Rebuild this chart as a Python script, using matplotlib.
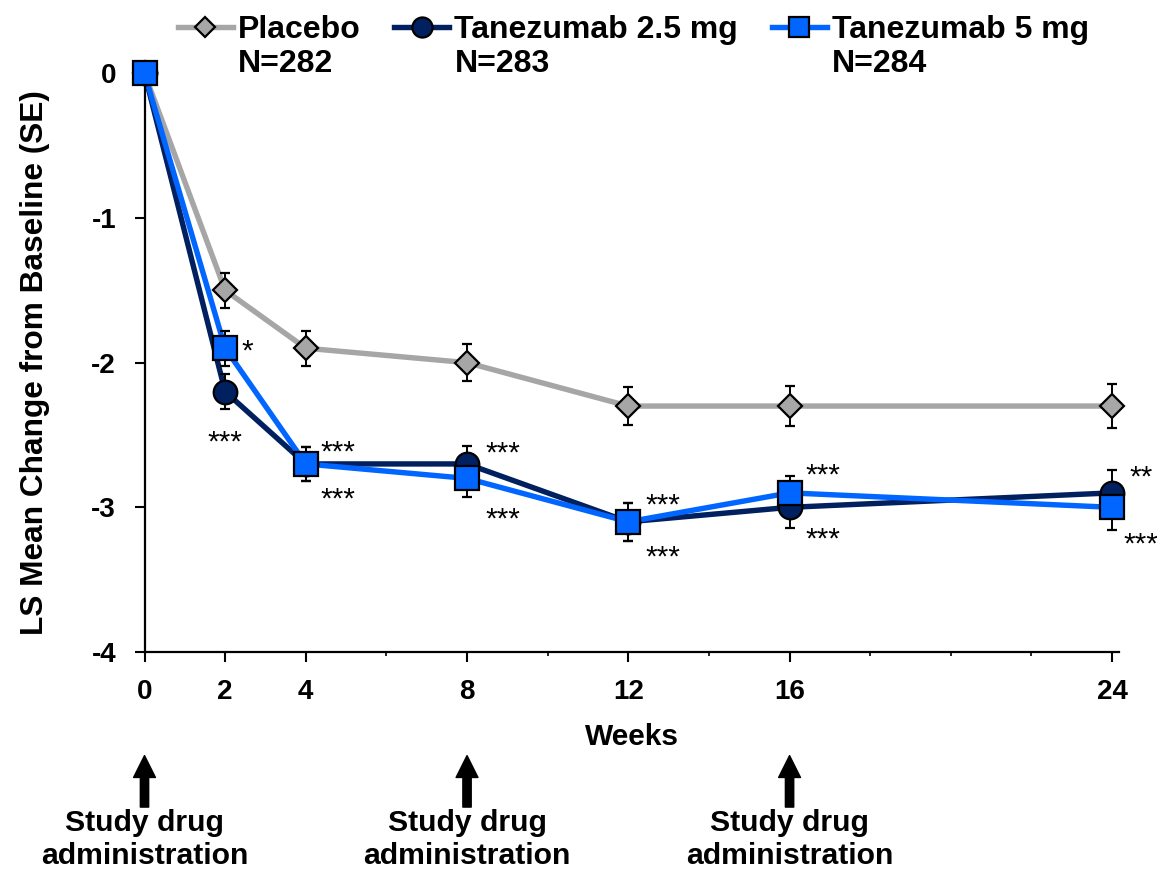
import numpy as np
import matplotlib
matplotlib.use("Agg")
import matplotlib.pyplot as plt
from matplotlib.lines import Line2D

plt.rcParams['font.family'] = ['Liberation Sans', 'DejaVu Sans']
plt.rcParams['font.weight'] = 'bold'
plt.rcParams['axes.unicode_minus'] = False

weeks = [0, 2, 4, 8, 12, 16, 24]
placebo = [0, -1.5, -1.9, -2.0, -2.3, -2.3, -2.3]
placebo_se = [0, 0.12, 0.12, 0.13, 0.13, 0.14, 0.15]
tan25 = [0, -2.2, -2.7, -2.7, -3.1, -3.0, -2.9]
tan25_se = [0, 0.12, 0.12, 0.125, 0.13, 0.14, 0.16]
tan5 = [0, -1.9, -2.7, -2.8, -3.1, -2.9, -3.0]
tan5_se = [0, 0.12, 0.12, 0.13, 0.13, 0.12, 0.16]

names = ["Placebo", "Tanezumab 2.5 mg", "Tanezumab 5 mg"]
counts = ["N=282", "N=283", "N=284"]
colors = ["#A6A6A6", "#002060", "#0066FF"]
markers = ["D", "o", "s"]
msizes = [12.5, 17, 17]

# significance marks: (week, series index, text, x offset px, y offset px)
stars = [
    (2, 2, "*", 22, 6),
    (2, 1, "***", 0, -42),
    (4, 2, "***", 32, 20),
    (4, 1, "***", 32, -27),
    (8, 1, "***", 36, 19),
    (8, 2, "***", 36, -32),
    (12, 2, "***", 35, 25),
    (12, 1, "***", 35, -27),
    (16, 2, "***", 33, 26),
    (16, 1, "***", 33, -23),
    (24, 1, "**", 29, 24),
    (24, 2, "***", 29, -28),
]
dosing_weeks = [0, 8, 16]

series = [placebo, tan25, tan5]
errors = [placebo_se, tan25_se, tan5_se]

fig = plt.figure(figsize=(11.57, 8.74), dpi=100)
ax = fig.add_axes([0.1249, 0.2540, 0.8422, 0.6621])

for i, (y, se) in enumerate(zip(series, errors)):
    ax.plot(weeks, y, color=colors[i], lw=3.9, zorder=2 + i * 0.1, solid_capstyle='round')
for i, (y, se) in enumerate(zip(series, errors)):
    ax.errorbar(weeks, y, yerr=se, fmt='none', ecolor='black', elinewidth=1.4,
                capsize=3.4, capthick=1.6, zorder=2.5)
for i, y in enumerate(series):
    ax.plot(weeks, y, ls='none', marker=markers[i], ms=msizes[i],
            mfc=colors[i], mec='black', mew=1.6, zorder=3 + i, clip_on=False)

for wk, si, txt, dx, dy in stars:
    yv = series[si][weeks.index(wk)]
    ax.annotate(txt, (wk, yv), xytext=(dx, dy - 17), textcoords='offset pixels',
                ha='center', va='baseline', fontsize=21.5, fontweight='normal',
                annotation_clip=False)

ax.set_xlim(0, 24.17)
ax.set_ylim(-4, 0)
ax.set_xticks(weeks)
ax.set_xticks([6, 10, 14, 18, 20, 22], minor=True)
ax.set_yticks([0, -1, -2, -3, -4])
ax.tick_params(axis='both', which='major', length=7.5, width=1.5, labelsize=20, direction='out')
ax.tick_params(axis='x', which='minor', length=3, width=1.2, direction='out')
ax.tick_params(axis='y', pad=13)
ax.tick_params(axis='x', pad=12)
for s in ['top', 'right']:
    ax.spines[s].set_visible(False)
for s in ['left', 'bottom']:
    ax.spines[s].set_linewidth(1.6)

ax.set_xlabel("Weeks", fontsize=21.5, fontweight='bold', labelpad=13)
ax.set_ylabel("LS Mean Change from Baseline (SE)", fontsize=22.8, fontweight='bold')
ax.yaxis.set_label_coords(-0.097, 0.5)

trans = ax.get_xaxis_transform()
for wk in dosing_weeks:
    ax.annotate('', xy=(wk, -0.179), xytext=(wk, -0.268), xycoords=trans, textcoords=trans,
                arrowprops=dict(arrowstyle="simple,head_length=1.05,head_width=1.05,tail_width=0.4",
                                mutation_scale=15, color='black', shrinkA=0, shrinkB=0),
                annotation_clip=False)
    ax.text(wk, -0.271, "Study drug\nadministration", transform=trans, ha='center', va='top',
            fontsize=21.7, fontweight='bold', linespacing=1.25)

handles = [Line2D([], [], color=colors[i], lw=3.9, marker=markers[i], ms=msizes[i] * 0.85,
                  mfc=colors[i], mec='black', mew=1.6) for i in range(3)]
leg = fig.legend(handles, names, loc='center left', bbox_to_anchor=(178 / 1157, 1 - 30 / 874),
                 ncol=3, frameon=False, fontsize=23, borderpad=0, borderaxespad=0,
                 handlelength=1.72, handletextpad=0.16, columnspacing=1.05)

fig.canvas.draw()
W, H = fig.bbox.width, fig.bbox.height
for t, n in zip(leg.get_texts(), counts):
    bb = t.get_window_extent()
    fig.text(bb.x0 / W, 1 - 64 / 874, n, ha='left', va='center', fontsize=23, fontweight='bold')

fig.savefig("out.png", dpi=100)
